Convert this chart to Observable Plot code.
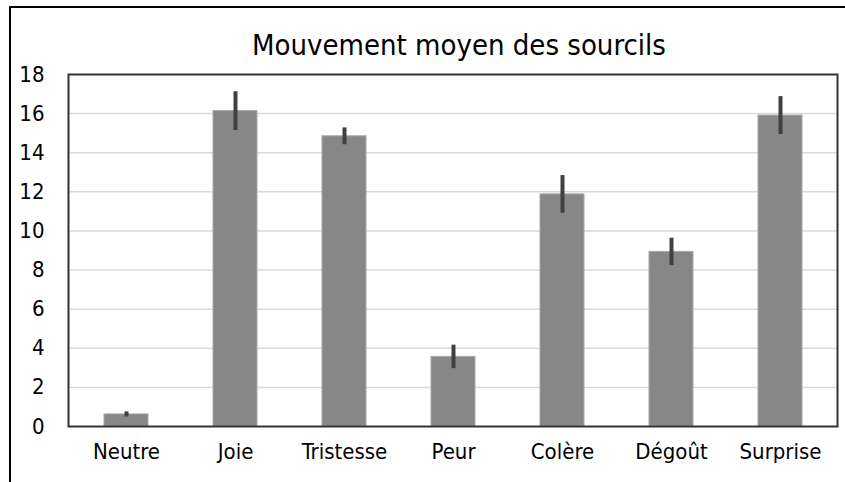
<!DOCTYPE html>
<html><head><meta charset="utf-8">
<script src="https://cdn.jsdelivr.net/npm/d3@7"></script>
<script src="https://cdn.jsdelivr.net/npm/@observablehq/plot@0.6"></script>
<style>
html,body{margin:0;padding:0;background:#fff;}
#wrap{position:relative;width:845px;height:482px;overflow:hidden;background:#fff;}
#border{position:absolute;left:9px;top:6px;width:900px;height:600px;border-top:2px solid #000;border-left:2px solid #000;}
#chart{position:absolute;left:0;top:0;}
</style></head><body><div id="wrap"><div id="border"></div><div id="chart"></div></div>
<script>
const title = "Mouvement moyen des sourcils";
const categories = ["Neutre", "Joie", "Tristesse", "Peur", "Colère", "Dégoût", "Surprise"];
const means = [0.62, 16.13, 14.84, 3.56, 11.87, 8.93, 15.9];
const errors = [0.13, 0.99, 0.43, 0.6, 0.96, 0.7, 0.97];
const yTicks = [0, 2, 4, 6, 8, 10, 12, 14, 16, 18];

const data = categories.map((c, i) => ({cat: c, mean: means[i], err: errors[i]}));
const font = "'Liberation Sans Narrow', 'DejaVu Sans Condensed', 'Liberation Sans', sans-serif";

const plot = Plot.plot({
  width: 845, height: 482,
  marginLeft: 68, marginRight: 8, marginTop: 74, marginBottom: 56,
  style: {fontFamily: font, fontSize: "22px", color: "#000", background: "transparent", overflow: "visible"},
  x: {domain: categories, paddingInner: 0.6, paddingOuter: 0.3, label: null},
  y: {domain: [0, 18], ticks: yTicks, label: null},
  marks: [
    Plot.gridY(yTicks.filter(d => d > 0 && d < 18), {stroke: "#d9d9d9", strokeOpacity: 1, strokeWidth: 1.5}),
    Plot.barY(data, {x: "cat", y: "mean", fill: "#878787", stroke: "#a8a8a8", strokeWidth: 1}),
    Plot.ruleX(data, {x: "cat", y1: d => d.mean - d.err, y2: d => d.mean + d.err, stroke: "#404040", strokeWidth: 4}),
    Plot.frame({stroke: "#333", strokeWidth: 2}),
    Plot.axisY(yTicks, {tickSize: 0, tickPadding: 24, fontSize: 22, fill: "#000"}),
    Plot.axisX({tickSize: 0, tickPadding: 17, fontSize: 22, fill: "#000"}),
    Plot.text([title], {text: d => d, frameAnchor: "top", dy: -40, dx: 6, fontSize: 29, fill: "#000"})
  ]
});
document.getElementById("chart").appendChild(plot);
</script></body></html>
